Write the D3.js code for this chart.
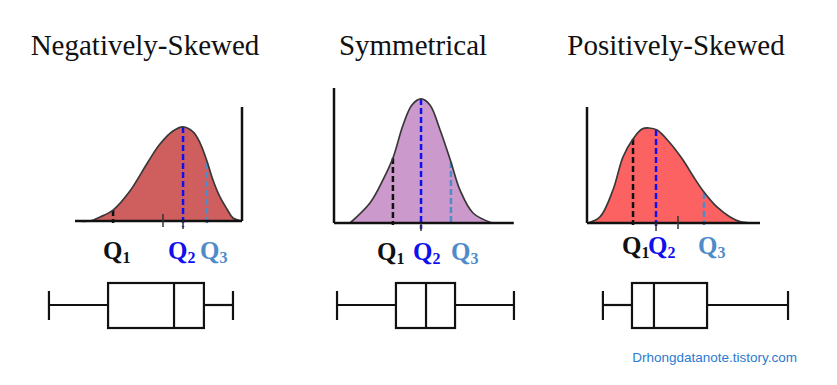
<!DOCTYPE html>
<html>
<head>
<meta charset="utf-8">
<script src="https://cdn.jsdelivr.net/npm/d3@7"></script>
<style>
  body { margin: 0; background: #fff; }
  svg { display: block; }
</style>
</head>
<body>
<div id="chart"></div>
<script>
// titles of the three panels
var titles = ["Negatively-Skewed", "Symmetrical", "Positively-Skewed"];
var quartileNames = ["1", "2", "3"];

// density curves, [x, density] (0-100 units)
var negCurve = [[0, 0], [9, 0], [15, 3.5], [22.8, 9.6], [32.9, 26.3], [43.7, 51.8], [50.9, 67.5],
  [58.7, 78.9], [64.7, 82.5], [70.7, 78.1], [74.9, 68.4], [79, 52.6], [82.6, 36], [86.8, 21.1],
  [91, 10.5], [94.6, 2.6], [100, 0]];
var symCurve = [[9, 0], [20.2, 14.8], [27.5, 31.9], [33.1, 48.1], [38.8, 72.6], [43.8, 87.4],
  [48.9, 91.9], [53.9, 87.4], [59.6, 68.9], [65.7, 45.2], [70.8, 24.4], [78.1, 7.4], [88.8, 0]];
var posCurve = [[0.6, 0], [7.5, 5.2], [15, 28.4], [20.8, 56.9], [26.6, 72.4], [31.8, 81], [35.8, 81.9],
  [40.5, 80.2], [48, 69], [55.5, 54.3], [61.3, 40.5], [67.6, 26.7], [75.1, 13.8], [82.7, 5.2],
  [88.4, 1.2], [94.2, 0]];

// quartile positions and the curve height at each
var negQuartiles = [22.8, 64.7, 79.0];
var negQuartileTops = [9.6, 82.5, 50.9];
var symQuartiles = [33.1, 48.9, 65.7];
var symQuartileTops = [48.1, 91.9, 45.2];
var posQuartiles = [26.6, 39.9, 67.6];
var posQuartileTops = [72.4, 80.2, 25.9];

// mean and median marks on the axis
var negMean = 52.7, negMedian = 64.7;
var symMean = 48.9, symMedian = 48.9;
var posMean = 52.6, posMedian = 39.9;

// where the Q labels start
var negLabelX = [16.8, 55.7, 74.9];
var symLabelX = [24.2, 44.4, 65.7];
var posLabelX = [20.2, 35.3, 64.2];

// box plots: min, q1, median, q3, max
var negBox = [-15.6, 19.8, 59.3, 77.2, 94.6];
var symBox = [1.7, 34.8, 51.7, 68.0, 101.1];
var posBox = [9.2, 26.0, 38.7, 69.4, 116.2];

var width = 837, height = 385;
var qColors = ["#111111", "#1010ee", "#4f8bc9"];

var panels = [
  { title: titles[0], titleX: 145, curve: negCurve, q: negQuartiles, qTop: negQuartileTops,
    mean: negMean, median: negMedian, labelX: negLabelX, box: negBox,
    xr: [75, 242], yr: [221, 107], axisAt: 100, baseEnd: 100, labelY: 259, fill: "#cf5f5f" },
  { title: titles[1], titleX: 413, curve: symCurve, q: symQuartiles, qTop: symQuartileTops,
    mean: symMean, median: symMedian, labelX: symLabelX, box: symBox,
    xr: [334, 512], yr: [223, 88], axisAt: 0, baseEnd: 101, labelY: 260, fill: "#cc99cc" },
  { title: titles[2], titleX: 676, curve: posCurve, q: posQuartiles, qTop: posQuartileTops,
    mean: posMean, median: posMedian, labelX: posLabelX, box: posBox,
    xr: [587, 760], yr: [223, 107], axisAt: 0, baseEnd: 100, labelY: 254, fill: "#fd6262" }
];

var svg = d3.select("#chart").append("svg")
    .attr("width", width)
    .attr("height", height);

panels.forEach(function(p) {
  var x = d3.scaleLinear().domain([0, 100]).range(p.xr);
  var y = d3.scaleLinear().domain([0, 100]).range(p.yr);
  var g = svg.append("g");

  g.append("text")
      .attr("x", p.titleX)
      .attr("y", 55)
      .attr("text-anchor", "middle")
      .style("font-family", "'Liberation Serif', 'Times New Roman', serif")
      .style("font-size", "29px")
      .style("fill", "#111")
      .text(p.title);

  var area = d3.area()
      .x(function(d) { return x(d[0]); })
      .y0(y(0))
      .y1(function(d) { return Math.min(y(0), y(d[1])); })
      .curve(d3.curveCatmullRom.alpha(0.5));
  var line = d3.line()
      .x(function(d) { return x(d[0]); })
      .y(function(d) { return y(d[1]); })
      .curve(d3.curveCatmullRom.alpha(0.5));

  g.append("path")
      .datum(p.curve)
      .attr("d", area)
      .style("fill", p.fill);

  // quartile dashes
  p.q.forEach(function(v, i) {
    g.append("line")
        .attr("x1", x(v)).attr("x2", x(v))
        .attr("y1", y(p.qTop[i])).attr("y2", y(0) + (i == 1 ? 6 : 2))
        .style("stroke", qColors[i])
        .style("stroke-width", 2.5)
        .style("stroke-dasharray", "6,3");
  });

  g.append("path")
      .datum(p.curve)
      .attr("d", line)
      .style("fill", "none")
      .style("stroke", "#383838")
      .style("stroke-width", 1.7);

  // axes
  g.append("line")
      .attr("x1", x(0)).attr("x2", x(p.baseEnd))
      .attr("y1", y(0)).attr("y2", y(0))
      .style("stroke", "#111").style("stroke-width", 2.5);
  g.append("line")
      .attr("x1", x(p.axisAt)).attr("x2", x(p.axisAt))
      .attr("y1", y(0)).attr("y2", y(100))
      .style("stroke", "#111").style("stroke-width", 2.5);

  // median tick below, mean tick across the axis
  g.append("line")
      .attr("x1", x(p.median)).attr("x2", x(p.median))
      .attr("y1", y(0)).attr("y2", y(0) + 8)
      .style("stroke", "#333").style("stroke-width", 1.5);
  if (p.mean != p.median) {
    g.append("line")
        .attr("x1", x(p.mean)).attr("x2", x(p.mean))
        .attr("y1", y(0) - 7).attr("y2", y(0) + 6)
        .style("stroke", "#333").style("stroke-width", 1.5);
  }

  // Q labels
  p.labelX.forEach(function(v, i) {
    var t = g.append("text")
        .attr("x", x(v))
        .attr("y", p.labelY)
        .style("font-family", "'Liberation Serif', 'Times New Roman', serif")
        .style("font-weight", "bold")
        .style("font-size", "25px")
        .style("fill", qColors[i]);
    t.append("tspan").text("Q");
    t.append("tspan")
        .attr("dy", 4)
        .style("font-size", "16px")
        .text(quartileNames[i]);
  });

  // box plot
  var b = p.box, mid = 305;
  var bg = g.append("g")
      .style("stroke", "#111")
      .style("stroke-width", 2.2)
      .style("fill", "none");
  bg.append("line").attr("x1", x(b[0])).attr("x2", x(b[1])).attr("y1", mid).attr("y2", mid);
  bg.append("line").attr("x1", x(b[3])).attr("x2", x(b[4])).attr("y1", mid).attr("y2", mid);
  bg.append("line").attr("x1", x(b[0])).attr("x2", x(b[0])).attr("y1", mid - 14).attr("y2", mid + 15);
  bg.append("line").attr("x1", x(b[4])).attr("x2", x(b[4])).attr("y1", mid - 14).attr("y2", mid + 15);
  bg.append("rect")
      .attr("x", x(b[1])).attr("y", mid - 22)
      .attr("width", x(b[3]) - x(b[1])).attr("height", 45)
      .style("fill", "#fff");
  bg.append("line").attr("x1", x(b[2])).attr("x2", x(b[2])).attr("y1", mid - 22).attr("y2", mid + 23);
});

svg.append("text")
    .attr("x", 797)
    .attr("y", 362)
    .attr("text-anchor", "end")
    .style("font-family", "'Liberation Sans', Arial, sans-serif")
    .style("font-size", "13.5px")
    .style("fill", "#2a7bd1")
    .text("Drhongdatanote.tistory.com");
</script>
</body>
</html>
